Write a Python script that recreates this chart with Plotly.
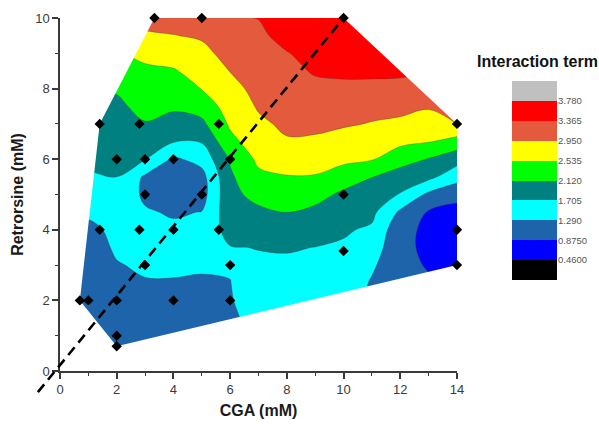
import numpy as np
import plotly.graph_objects as go

# ---- fitted response surface, sampled on a regular CGA x retrorsine grid ----
cga_grid = [0, 1, 2, 3, 4, 5, 6, 7, 8, 9, 10, 11, 12, 13, 14]
retrorsine_grid = [0, 0.5, 1, 1.5, 2, 2.5, 3, 3.5, 4, 4.5, 5,
                   5.5, 6, 6.5, 7, 7.5, 8, 8.5, 9, 9.5, 10]

# interaction term along retrorsine (0 -> 10 mM), one profile per CGA level
surface_cga0 = [0.95, 0.96, 0.975, 0.99, 1.0, 1.05, 1.1, 1.15, 1.2, 1.354, 1.513, 1.673, 1.774, 1.861, 1.947, 2.034, 2.125, 2.293, 2.466, 2.648, 2.837]
surface_cga1 = [0.95, 0.96, 0.975, 0.99, 1.0, 1.05, 1.1, 1.15, 1.2, 1.354, 1.513, 1.673, 1.774, 1.861, 1.947, 2.034, 2.125, 2.293, 2.466, 2.648, 2.837]
surface_cga2 = [0.7, 0.80, 1.0, 1.05, 1.1, 1.186, 1.273, 1.33, 1.38, 1.45, 1.58, 1.71, 1.794, 1.88, 1.966, 2.051, 2.155, 2.328, 2.50, 2.772, 3.07]
surface_cga3 = [1.0, 1.03, 1.06, 1.134, 1.203, 1.272, 1.33, 1.42, 1.42, 1.33, 1.22, 1.23, 1.72, 1.903, 2.10, 2.227, 2.345, 2.464, 2.634, 2.881, 3.13]
surface_cga4 = [0.98, 1.01, 1.04, 1.113, 1.188, 1.263, 1.36, 1.43, 1.36, 1.25, 1.05, 1.02, 1.22, 1.73, 1.974, 2.184, 2.343, 2.503, 2.713, 2.937, 3.15]
surface_cga5 = [1.0, 1.03, 1.07, 1.12, 1.19, 1.25, 1.33, 1.44, 1.42, 1.30, 1.12, 1.15, 1.43, 1.735, 2.03, 2.299, 2.547, 2.691, 2.835, 3.0, 3.25]
surface_cga6 = [1.05, 1.08, 1.12, 1.17, 1.25, 1.28, 1.33, 1.69, 1.85, 1.95, 2.02, 2.06, 2.16, 2.426, 2.594, 2.713, 2.831, 2.96, 3.10, 3.22, 3.33]
surface_cga7 = [1.3, 1.38, 1.45, 1.52, 1.57, 1.61, 1.66, 1.714, 1.883, 2.045, 2.236, 2.449, 2.615, 2.748, 2.881, 2.987, 3.064, 3.141, 3.218, 3.296, 3.373]
surface_cga8 = [1.35, 1.40, 1.45, 1.50, 1.55, 1.60, 1.65, 1.732, 1.926, 2.13, 2.318, 2.515, 2.716, 2.918, 3.019, 3.102, 3.184, 3.266, 3.349, 3.48, 3.6]
surface_cga9 = [1.40, 1.44, 1.48, 1.52, 1.56, 1.60, 1.65, 1.70, 1.861, 2.034, 2.25, 2.509, 2.705, 2.893, 3.035, 3.158, 3.28, 3.40, 3.48, 3.56, 3.64]
surface_cga10 = [1.40, 1.43, 1.46, 1.49, 1.52, 1.56, 1.61, 1.66, 1.749, 1.898, 2.046, 2.328, 2.627, 2.81, 2.988, 3.145, 3.302, 3.42, 3.50, 3.57, 3.64]
surface_cga11 = [1.1, 1.12, 1.15, 1.18, 1.21, 1.25, 1.349, 1.497, 1.646, 1.801, 1.96, 2.13, 2.564, 2.748, 2.932, 3.058, 3.30, 3.42, 3.48, 3.52, 3.56]
surface_cga12 = [1.15, 1.15, 1.14, 1.12, 1.1, 1.06, 1.0, 0.98, 1.0, 1.22, 1.68, 1.93, 2.29, 2.63, 2.86, 3.08, 3.28, 3.42, 3.46, 3.5, 3.52]
surface_cga13 = [1.05, 1.03, 1.0, 0.98, 0.96, 0.92, 0.84, 0.79, 0.79, 0.84, 1.2, 1.82, 2.1, 2.557, 2.775, 2.99, 3.2, 3.38, 3.42, 3.45, 3.48]
surface_cga14 = [0.9, 0.85, 0.8, 0.75, 0.7, 0.66, 0.62, 0.58, 0.6, 0.72, 1.02, 1.435, 1.865, 2.369, 2.96, 3.1, 3.2, 3.3, 3.35, 3.4, 3.45]

# measured design points (CGA, retrorsine)
design_cga = [0.7, 1, 2, 4, 6, 2, 2, 1.4, 2.8, 4, 5.6, 14, 3, 6, 14, 10,
              3, 5, 10, 2, 3, 4, 6, 1.4, 2.8, 5.6, 14, 3.33, 5, 10]
design_ret = [2, 2, 2, 2, 2, 1, 0.7, 4, 4, 4, 4, 4, 3, 3, 3, 3.4,
              5, 5, 5, 6, 6, 6, 6, 7, 7, 7, 7, 10, 10, 10]

# equal-effect reference line
diag_cga = [-0.78, 10]
diag_ret = [-0.6, 10]

# contour levels and band colours (lowest band first)
levels = [0.46, 0.875, 1.29, 1.705, 2.12, 2.535, 2.95, 3.365, 3.78]
level_labels = ["0.4600", "0.8750", "1.290", "1.705", "2.120",
                "2.535", "2.950", "3.365", "3.780"]
band_colors = ["#000000", "#0000FF", "#1E64AA", "#00FFFF", "#008080",
               "#00FF00", "#FFFF00", "#E35A3C", "#FF0000", "#C0C0C0"]

# ---------------------------------------------------------------------------
profiles = [surface_cga0, surface_cga1, surface_cga2, surface_cga3, surface_cga4,
            surface_cga5, surface_cga6, surface_cga7, surface_cga8, surface_cga9,
            surface_cga10, surface_cga11, surface_cga12, surface_cga13, surface_cga14]
z = np.array(profiles).T  # rows = retrorsine, columns = CGA

n_bands = len(band_colors)
scale = [[i / (n_bands - 1), c] for i, c in enumerate(band_colors)]

# figure geometry (pixels)
W, H = 599, 424
ML, MR, MT, MB = 60, 5, 18, 53
pw, ph = W - ML - MR, H - MT - MB
plot_right = 457
xdom = [0, (plot_right - ML) / pw]
x_range = [0, 14]
y_range = [0, 10]


def convex_hull(px, py):
    pts = sorted(set(zip(px, py)))

    def cross(o, a, b):
        return (a[0] - o[0]) * (b[1] - o[1]) - (a[1] - o[1]) * (b[0] - o[0])

    lower, upper = [], []
    for p in pts:
        while len(lower) >= 2 and cross(lower[-2], lower[-1], p) <= 0:
            lower.pop()
        lower.append(p)
    for p in reversed(pts):
        while len(upper) >= 2 and cross(upper[-2], upper[-1], p) <= 0:
            upper.pop()
        upper.append(p)
    return lower[:-1] + upper[:-1]  # counter-clockwise


hull = convex_hull(design_cga, design_ret)
hull_cw = hull[::-1]
# white frame with a hole over the sampled region
frame_x = [x_range[0] - 1, x_range[1] + 1, x_range[1] + 1, x_range[0] - 1, x_range[0] - 1]
frame_y = [y_range[0] - 1, y_range[0] - 1, y_range[1] + 1, y_range[1] + 1, y_range[0] - 1]
mask_x = frame_x + [None] + [p[0] for p in hull_cw] + [hull_cw[0][0]]
mask_y = frame_y + [None] + [p[1] for p in hull_cw] + [hull_cw[0][1]]

fig = go.Figure()

fig.add_trace(go.Contour(
    x=cga_grid, y=retrorsine_grid, z=z,
    contours=dict(start=levels[0], end=levels[-1],
                  size=(levels[-1] - levels[0]) / (len(levels) - 1),
                  coloring="fill", showlines=True),
    colorscale=scale, showscale=False,
    line=dict(width=0.6, color="rgba(60,60,60,0.55)", smoothing=1.0),
    hoverinfo="skip",
))

fig.add_trace(go.Scatter(
    x=mask_x, y=mask_y, mode="lines", fill="toself",
    fillcolor="white", line=dict(width=0, color="white"),
    hoverinfo="skip", showlegend=False,
))

fig.add_trace(go.Scatter(
    x=design_cga, y=design_ret, mode="markers",
    marker=dict(symbol="diamond", size=8, color="black"),
    cliponaxis=False, showlegend=False, hoverinfo="skip",
))

# colour key built from the same bands
fig.add_trace(go.Heatmap(
    z=[[i] for i in range(n_bands)], x=[0], y=list(range(n_bands)),
    colorscale=scale, zmin=0, zmax=n_bands - 1, showscale=False,
    xaxis="x2", yaxis="y2", hoverinfo="skip",
))


def to_paper_x(v):
    return xdom[0] + (v - x_range[0]) / (x_range[1] - x_range[0]) * (xdom[1] - xdom[0])


def to_paper_y(v):
    return (v - y_range[0]) / (y_range[1] - y_range[0])


fig.add_shape(type="line", xref="paper", yref="paper",
              x0=to_paper_x(diag_cga[0]), y0=to_paper_y(diag_ret[0]),
              x1=to_paper_x(diag_cga[1]), y1=to_paper_y(diag_ret[1]),
              line=dict(color="black", width=2.6, dash="10px,6px"), layer="above")

axis_font = dict(family="Arial, Liberation Sans, sans-serif", size=13, color="#3a3a3a")
title_font = dict(family="Arial, Liberation Sans, sans-serif", size=16, color="#1a1a1a")
common = dict(showline=True, linecolor="#3a3a3a", linewidth=1.5, ticks="outside",
              ticklen=6, tickwidth=1.5, tickcolor="#3a3a3a", showgrid=False,
              zeroline=False, tickfont=axis_font,
              minor=dict(dtick=1, ticks="outside", ticklen=3.5, tickwidth=1.3,
                         tickcolor="#3a3a3a", showgrid=False))

key_left, key_right, key_top, key_bottom = 512, 557, 81, 280

fig.update_layout(
    width=W, height=H, template="none",
    margin=dict(l=ML, r=MR, t=MT, b=MB),
    paper_bgcolor="white", plot_bgcolor="white", showlegend=False,
    xaxis=dict(domain=xdom, range=x_range, tickvals=[0, 2, 4, 6, 8, 10, 12, 14],
               title=dict(text="<b>CGA (mM)</b>", font=title_font, standoff=8), **common),
    yaxis=dict(domain=[0, 1], range=y_range, tickvals=[0, 2, 4, 6, 8, 10],
               title=dict(text="<b>Retrorsine (mM)</b>", font=title_font, standoff=8), **common),
    xaxis2=dict(domain=[(key_left - ML) / pw, (key_right - ML) / pw], anchor="y2",
                range=[-0.5, 0.5], visible=False),
    yaxis2=dict(domain=[(H - MB - key_bottom) / ph, (H - MB - key_top) / ph], anchor="x2",
                range=[-0.5, n_bands - 0.5], side="right", showline=False, showgrid=False,
                zeroline=False, ticks="",
                tickvals=[k + 0.5 for k in range(len(levels))], ticktext=level_labels,
                tickfont=dict(family="Arial, Liberation Sans, sans-serif", size=9.5, color="#555")),
    annotations=[dict(text="<b>Interaction term</b>", xref="paper", yref="paper",
                      x=(475 - ML) / pw, y=(H - MB - 62) / ph, xanchor="left", yanchor="middle",
                      showarrow=False,
                      font=dict(family="Arial, Liberation Sans, sans-serif", size=16, color="#111"))],
)

fig.write_html("out.html", config={"displayModeBar": False})
